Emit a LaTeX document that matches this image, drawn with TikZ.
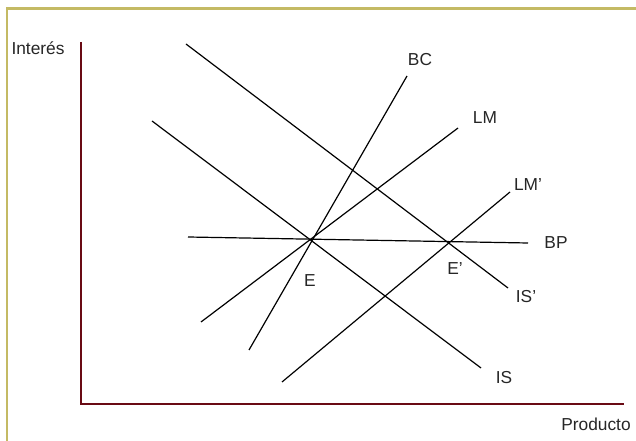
\documentclass[tikz,border=0pt]{standalone}
\usepackage{fontspec}
\setmainfont{Liberation Sans}
\definecolor{frameolive}{RGB}{196,186,100}
\definecolor{axisred}{RGB}{105,10,20}
\begin{document}
\begin{tikzpicture}[x=0.75pt,y=-0.75pt,
  curve/.style={draw=black,line width=0.9pt},
  axisline/.style={draw=axisred,line width=1.4pt},
  lbl/.style={font=\fontsize{13pt}{15pt}\selectfont,inner sep=0pt,text=black!85}]
\useasboundingbox (0,0) rectangle (636,441);
% frame edges
\draw[frameolive,line width=1.8pt] (7,441) -- (7,8.5) -- (636,8.5);
% axes
\coordinate (ytop) at (81,42);
\coordinate (orig) at (81,404);
\coordinate (xend) at (624,404);
\draw[axisline] (ytop) -- (orig) -- (xend);
\node[lbl] (ylab) at (38,48) {Interés};
\node[lbl] (xlab) at (596,424) {Producto};
% curve end points
\coordinate (isp1) at (186,44);   \coordinate (isp2) at (508,288);
\coordinate (is1) at (152,121);   \coordinate (is2) at (481,368);
\coordinate (bc1) at (249,350);   \coordinate (bc2) at (407,76);
\coordinate (lm1) at (201,322);   \coordinate (lm2) at (458,128);
\coordinate (lmp1) at (282,382);  \coordinate (lmp2) at (510,192);
\coordinate (bp1) at (188,237);   \coordinate (bp2) at (528,243);
% curves
\draw[curve] (isp1) -- (isp2);
\draw[curve] (is1) -- (is2);
\draw[curve] (bc1) -- (bc2);
\draw[curve] (lm1) -- (lm2);
\draw[curve] (lmp1) -- (lmp2);
\draw[curve] (bp1) -- (bp2);
% curve labels
\node[lbl] (lisp) at (526,297) {IS'};
\node[lbl] (lis) at (504,378) {IS};
\node[lbl] (lbc) at (420,60) {BC};
\node[lbl] (llm) at (485,118) {LM};
\node[lbl] (llmp) at (528,185) {LM'};
\node[lbl] (lbp) at (556,243) {BP};
% equilibria
\node[lbl] (le) at (310,281) {E};
\node[lbl] (lep) at (455,269) {E'};
\end{tikzpicture}
\end{document}
